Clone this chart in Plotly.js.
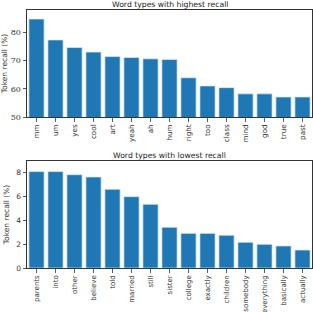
<!DOCTYPE html>
<html><head><meta charset="utf-8">
<script src="https://cdn.plot.ly/plotly-3.0.1.min.js"></script>
<style>html,body{margin:0;padding:0;background:#fff}#chart{width:313px;height:312px}</style>
</head><body><div id="chart"></div>
<script>
const highWords = ["mm","um","yes","cool","art","yeah","ah","hum","right","too","class","mind","god","true","past"];
const highRecall = [84.7,77.3,74.6,73.0,71.4,71.1,70.6,70.4,63.9,61.0,60.4,58.2,58.2,57.1,57.1];
const lowWords = ["parents","into","other","believe","told","married","still","sister","college","exactly","children","somebody","everything","basically","actually"];
const lowRecall = [8.09,8.09,7.83,7.64,6.61,5.99,5.35,3.42,2.91,2.91,2.75,2.16,1.99,1.85,1.51];
const topTicks = [50,60,70,80];
const bottomTicks = [0,2,4,6,8];

const barColor = "#1f77b4";
const W = 313, H = 312;
const xd = [27/W, 312/W];
const topDom = [1-117/H, 1-10/H];
const botDom = [1-268/H, 1-161/H];
const sans = "DejaVu Sans, sans-serif";
const serif = "DejaVu Serif, serif";

const common = {
  showline: true, mirror: true, linecolor: "#333", linewidth: 1,
  ticks: "outside", ticklen: 3.5, tickwidth: 0.8, tickcolor: "#333",
  showgrid: false, zeroline: false
};

const traces = [
  {type:"bar", x: highWords, y: highRecall, xaxis:"x", yaxis:"y", width:0.8,
   marker:{color:barColor, line:{color:"rgba(220,235,248,0.9)", width:0.8}}},
  {type:"bar", x: lowWords, y: lowRecall, xaxis:"x2", yaxis:"y2", width:0.8,
   marker:{color:barColor, line:{color:"rgba(220,235,248,0.9)", width:0.8}}}
];

const layout = {
  width: W, height: H, margin:{l:0,r:0,t:0,b:0},
  paper_bgcolor:"#fff", plot_bgcolor:"#fff", showlegend:false, bargap:0.2,
  xaxis: Object.assign({}, common, {domain: xd, anchor:"y", range:[-0.5,14.5], tickangle:-90,
    tickfont:{family:sans, size:7.2, color:"#333"}}),
  yaxis: Object.assign({}, common, {domain: topDom, anchor:"x", range:[50,87.9], tickvals: topTicks,
    tickfont:{family:serif, size:8, color:"#333"},
    title:{text:"Token recall (%)", font:{family:sans, size:7.5, color:"#333"}, standoff:3}}),
  xaxis2: Object.assign({}, common, {domain: xd, anchor:"y2", range:[-0.5,14.5], tickangle:-90,
    tickfont:{family:sans, size:7, color:"#333"}}),
  yaxis2: Object.assign({}, common, {domain: botDom, anchor:"x2", range:[0,8.98], tickvals: bottomTicks,
    tickfont:{family:sans, size:7.5, color:"#333"},
    title:{text:"Token recall (%)", font:{family:sans, size:7.5, color:"#333"}, standoff:5}}),
  annotations: [
    {text:"Word types with highest recall", xref:"paper", yref:"paper", x:(xd[0]+xd[1])/2, y:topDom[1],
     yanchor:"bottom", showarrow:false, yshift:-1.5, font:{family:sans, size:7.7, color:"#222"}},
    {text:"Word types with lowest recall", xref:"paper", yref:"paper", x:(xd[0]+xd[1])/2, y:botDom[1],
     yanchor:"bottom", showarrow:false, yshift:-1, font:{family:sans, size:7.7, color:"#222"}}
  ]
};
Plotly.newPlot("chart", traces, layout, {staticPlot:true, displayModeBar:false});
</script></body></html>
